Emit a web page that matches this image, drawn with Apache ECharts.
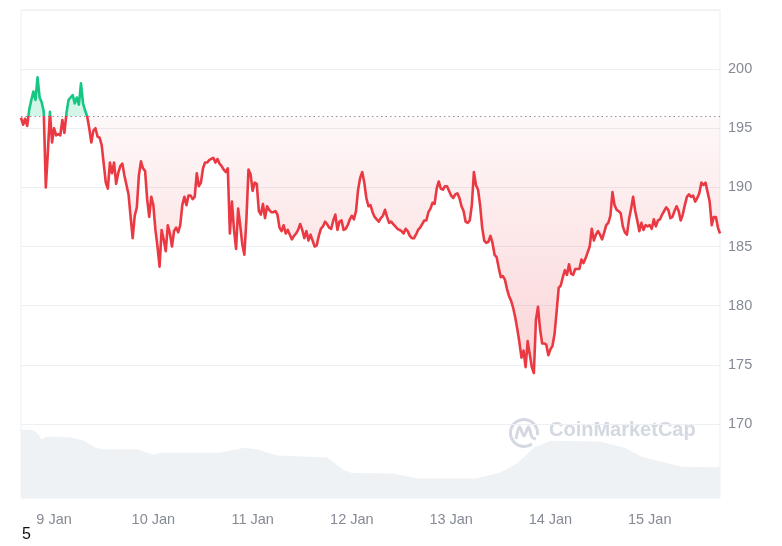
<!DOCTYPE html>
<html><head><meta charset="utf-8">
<script src="https://cdn.jsdelivr.net/npm/echarts@6/dist/echarts.min.js"></script>
<style>html,body{margin:0;padding:0;background:#fff}#c{width:782px;height:546px}</style>
</head><body><div id="c"></div>
<script>
// Price every 30 minutes, starting 8 Jan 16:00
const prices = [
195.9,195.3,195.8,195.2,196.6,197.4,198.1,197.4,199.3,197.6,
197.2,196.4,190.0,193.0,196.4,193.8,195.0,194.4,194.5,194.4,
195.7,194.6,196.3,197.4,197.6,197.8,197.1,197.6,197.0,198.8,
197.1,196.5,196.0,195.0,193.8,194.8,195.0,194.3,194.2,193.6,
192.0,190.4,189.9,192.1,191.2,192.1,190.3,191.2,191.8,192.0,
191.0,190.2,189.4,187.5,185.7,187.6,188.3,191.0,192.2,191.6,
191.4,189.0,187.5,189.2,188.5,186.4,185.0,183.3,186.4,185.6,
184.6,186.8,186.1,185.0,186.3,186.6,186.2,186.8,188.5,189.2,
188.5,189.3,189.3,189.0,189.2,191.2,190.1,190.4,191.6,192.1,
192.1,192.3,192.4,192.5,192.1,192.4,192.0,191.8,191.5,191.3,
191.6,186.1,188.8,186.4,184.8,188.2,186.8,185.2,184.3,187.3,
191.5,191.1,189.7,190.4,190.3,188.0,187.7,188.6,187.4,188.4,
188.1,187.9,187.9,188.0,187.7,186.6,186.3,186.8,186.1,186.4,
186.0,185.6,185.9,186.1,186.4,186.9,186.4,185.7,186.3,185.5,
186.0,185.5,185.0,185.1,185.9,186.5,186.7,187.1,186.9,186.6,
186.5,187.2,187.7,186.4,187.1,187.2,186.4,186.5,186.8,187.3,
187.6,187.3,188.0,189.8,190.8,191.3,190.4,189.1,188.4,188.5,
187.9,187.5,187.3,187.1,187.4,187.6,188.1,187.5,187.0,187.1,
186.9,186.7,186.5,186.4,186.3,186.1,186.5,186.3,185.9,185.7,
185.7,186.0,186.4,186.6,186.9,187.2,187.2,187.9,188.2,188.7,
188.6,189.9,190.5,189.9,189.8,190.1,190.1,189.7,189.3,189.1,
189.4,189.5,189.1,188.4,188.0,187.1,187.0,187.2,188.5,191.3,
190.2,189.8,188.5,186.6,185.5,185.3,185.4,185.9,185.3,184.3,
184.1,183.2,182.4,182.5,182.2,181.4,180.8,180.4,179.8,179.0,
178.0,176.9,175.6,176.2,174.8,177.0,175.9,174.8,174.3,178.8,
179.9,178.0,176.8,176.8,176.7,175.8,176.3,176.6,177.6,179.5,
181.5,181.7,182.4,183.0,182.6,183.5,182.7,182.6,183.1,183.1,
183.1,183.9,183.6,184.0,184.5,185.0,186.5,185.5,186.0,186.3,
186.0,185.6,186.2,186.8,187.0,187.6,189.6,188.5,188.1,188.0,
187.8,186.7,186.2,186.0,187.3,188.2,189.2,188.0,187.2,186.3,
187.0,186.4,186.8,186.7,186.8,186.5,187.3,186.7,187.2,187.3,
187.7,188.0,188.3,188.1,187.4,187.5,188.0,188.4,188.0,187.2,
187.7,188.5,189.2,189.4,189.2,189.3,188.8,189.1,189.5,190.4,
190.2,190.4,189.6,188.8,186.8,187.5,187.5,186.6,186.1
];
const baseline = 196;
// Volume (arbitrary units), hours since 8 Jan 16:00
const volHours  = [0,2,3,4,5,6,8,12,15,18,20,28,32,34,48,54,57,62,70,74,78,80,90,96,110,116,120,124,128,140,146,150,154,160,169];
const volValues = [98,98,97,93,84,88,88,87,83,72,70,70,62,65,65,72,70,61,59,58,40,36,35,28,28,37,50,72,82,81,72,59,53,45,44];
const dayLabels = ['9 Jan','10 Jan','11 Jan','12 Jan','13 Jan','14 Jan','15 Jan'];
const priceTicks = [170,175,180,185,190,195,200];

const categories = [];
for (let k = 0; k < prices.length; k++) {
  const d = new Date(Date.UTC(2024,0,8,16,0) + k*30*60000);
  categories.push(d.getUTCDate() + ' Jan ' + String(d.getUTCHours()).padStart(2,'0') + ':' + String(d.getUTCMinutes()).padStart(2,'0'));
}

const FONT = "'Liberation Sans', Arial, sans-serif";
const GREEN = '#16c784', RED = '#ea3943';
const LABEL = '#858a94';
const chart = echarts.init(document.getElementById('c'), null, {renderer:'canvas'});

const option = {
  animation: false,
  backgroundColor: '#ffffff',
  grid: [
    {left: 21, right: 62, top: 10, bottom: 63, show: false},
    {left: 21, right: 62, top: 10, bottom: 48, show: true, borderColor: '#eceff3', borderWidth: 1, backgroundColor: 'transparent'}
  ],
  xAxis: [
    {type: 'category', gridIndex: 0, data: categories, boundaryGap: false,
     axisLine: {show: false}, axisTick: {show: false}, splitLine: {show: false},
     axisLabel: {
       interval: (i, v) => v.endsWith(' 00:00') && dayLabels.includes(v.split(' ').slice(0,2).join(' ')),
       formatter: v => v.split(' ').slice(0,2).join(' '),
       margin: 29, color: LABEL, fontSize: 14.5, fontFamily: FONT
     }},
    {type: 'value', gridIndex: 1, min: 0, max: 169, show: false}
  ],
  yAxis: [
    {type: 'value', gridIndex: 0, position: 'right', min: 165, max: 205, interval: 5,
     axisLine: {show: false}, axisTick: {show: false},
     splitLine: {show: true, lineStyle: {color: '#eceff3', width: 1}},
     axisLabel: {formatter: v => priceTicks.includes(v) ? String(v) : '', margin: 8, color: LABEL, fontSize: 14.5, fontFamily: FONT}},
    {type: 'value', gridIndex: 1, min: 0, max: 700, show: false}
  ],
  series: [
    {
      name: 'Price', type: 'line', xAxisIndex: 0, yAxisIndex: 0, data: prices,
      symbol: 'none', z: 5,
      lineStyle: {width: 2.6, color: RED, join: 'round'},
      areaStyle: {origin: baseline, color: 'rgba(234,57,67,0.1)'},
      markLine: {
        silent: true, symbol: ['none','none'], label: {show: false},
        lineStyle: {type: [1.5, 3], color: '#8f97a8', width: 1},
        data: [{yAxis: baseline}]
      }
    },
    {
      name: 'Volume', type: 'line', xAxisIndex: 1, yAxisIndex: 1,
      data: volHours.map((h, i) => [h, volValues[i]]),
      symbol: 'none', z: 1, lineStyle: {width: 0},
      areaStyle: {color: '#eff2f5', opacity: 1}
    }
  ],
  graphic: [
    {type: 'group', left: 508, top: 417, children: [
      {type: 'arc', shape: {cx: 15, cy: 15, r: 13.5, startAngle: Math.PI*0.3, endAngle: Math.PI*2.05},
       style: {stroke: '#d3d8e1', lineWidth: 3, fill: null}},
      {type: 'polyline', shape: {points: [[7,21],[10.5,9],[15,18],[19.5,9],[23,19],[27,21]], smooth: 0.3},
       style: {stroke: '#d3d8e1', lineWidth: 3, fill: null}}
    ]},
    {type: 'text', left: 549, top: 420, style: {text: 'CoinMarketCap', fill: '#d3d8e1', font: 'bold 20px ' + FONT}},
    {type: 'text', left: 22, top: 527, style: {text: '5', fill: '#111111', font: '16px ' + FONT}}
  ]
};
chart.setOption(option);

// Colour split at the opening price: green above, red below (area stronger with depth)
const yBase = chart.convertToPixel({yAxisIndex: 0}, baseline);
const yLow = chart.convertToPixel({yAxisIndex: 0}, Math.min(...prices));
const off = yBase / yLow;
const lineGrad = {type: 'linear', x: 0, y: 0, x2: 0, y2: yLow, global: true, colorStops: [
  {offset: 0, color: GREEN}, {offset: off, color: GREEN}, {offset: off, color: RED}, {offset: 1, color: RED}]};
const areaGrad = {type: 'linear', x: 0, y: 0, x2: 0, y2: yLow, global: true, colorStops: [
  {offset: 0, color: 'rgba(22,199,132,0.26)'},
  {offset: off, color: 'rgba(22,199,132,0.26)'},
  {offset: off, color: 'rgba(234,57,67,0.05)'},
  {offset: 1, color: 'rgba(234,57,67,0.30)'}]};
chart.setOption({series: [{name: 'Price', lineStyle: {color: lineGrad}, areaStyle: {origin: baseline, color: areaGrad}}]});
</script>
</body></html>
